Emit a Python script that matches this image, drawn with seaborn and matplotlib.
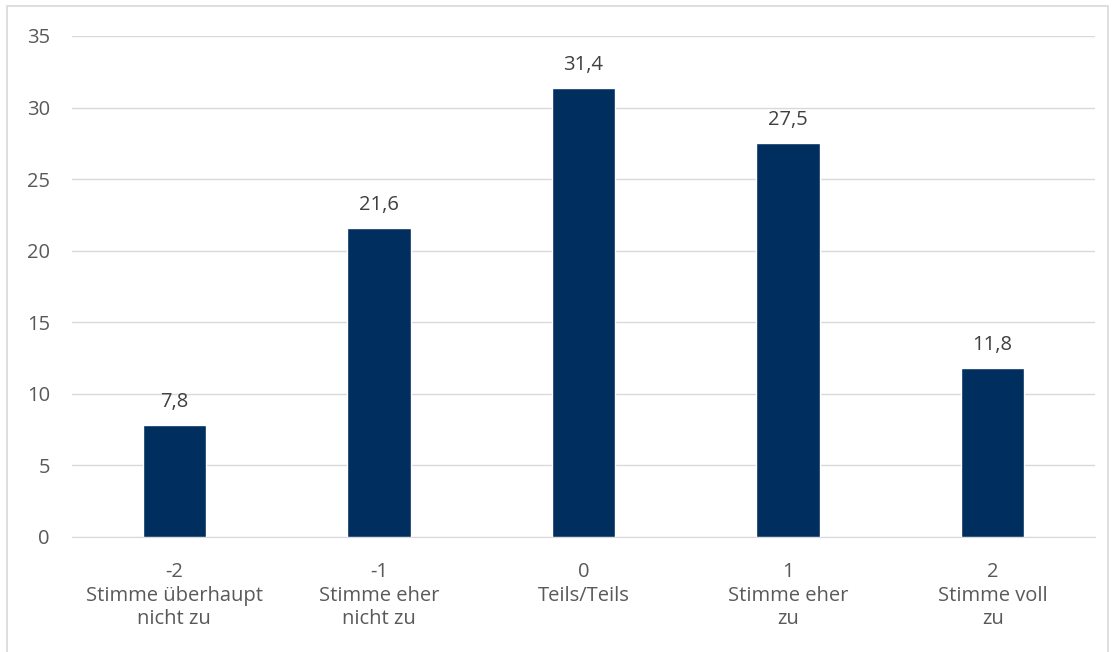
import matplotlib
matplotlib.use("Agg")
import matplotlib.pyplot as plt
import seaborn as sns
import pandas as pd
from matplotlib.patches import Rectangle

categories = ["-2\nStimme überhaupt\nnicht zu", "-1\nStimme eher\nnicht zu", "0\nTeils/Teils",
              "1\nStimme eher\nzu", "2\nStimme voll\nzu"]
values = [7.8, 21.6, 31.4, 27.5, 11.8]
value_labels = ["7,8", "21,6", "31,4", "27,5", "11,8"]

df = pd.DataFrame({"cat": categories, "val": values})

sns.set_style("white")
plt.rcParams["font.family"] = ["Open Sans", "DejaVu Sans"]
text_color = "#595959"

fig = plt.figure(figsize=(11.15, 6.52), dpi=100)
ax = fig.add_axes([0.0646, 0.1764, 0.9174, 0.7684])
sns.barplot(data=df, x="cat", y="val", color="#002F5F", width=0.31, saturation=1, ax=ax, zorder=3)

ax.set_ylim(0, 35)
ax.set_yticks(range(0, 36, 5))
ax.grid(axis="y", color="#D9D9D9", linewidth=1, zorder=0)
for s in ["top", "right", "left"]:
    ax.spines[s].set_visible(False)
ax.spines["bottom"].set_color("#D9D9D9")
ax.tick_params(axis="both", length=0, labelsize=14.5, labelcolor=text_color)
ax.tick_params(axis="y", pad=16)
ax.tick_params(axis="x", pad=18)
for lbl in ax.get_xticklabels():
    lbl.set_linespacing(1.25)
ax.set_xlabel("")
ax.set_ylabel("")

for i, (v, t) in enumerate(zip(values, value_labels)):
    ax.annotate(t, (i, v), xytext=(0, 16.5), textcoords="offset points", ha="center",
                va="center", fontsize=14.5, color="#404040")

fig.patches.append(Rectangle((7 / 1115, -0.05), 1101 / 1115, 1 - 6 / 652 + 0.05,
                             transform=fig.transFigure, fill=False, edgecolor="#D9D9D9",
                             linewidth=1.2, clip_on=False))

plt.savefig("out.png", dpi=100)
